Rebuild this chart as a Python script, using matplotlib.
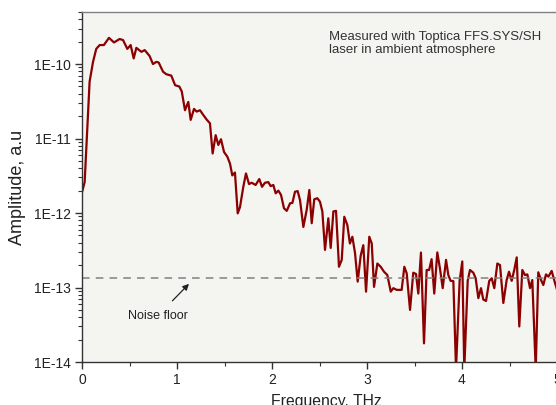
import matplotlib
matplotlib.use("Agg")
import matplotlib.pyplot as plt
from matplotlib.ticker import LogLocator, FuncFormatter, MultipleLocator, FixedLocator
import numpy as np

plt.rcParams['font.family'] = ['Liberation Sans', 'DejaVu Sans']

freq_thz = [0.0, 0.028, 0.08, 0.116, 0.15, 0.186, 0.23, 0.284, 0.337, 0.396, 0.432, 0.477, 0.512,
            0.544, 0.572, 0.625, 0.66, 0.712, 0.747, 0.782, 0.807, 0.853, 0.888, 0.94, 0.98,
            1.024, 1.05, 1.084, 1.119, 1.144, 1.179, 1.207, 1.242, 1.277, 1.312, 1.347, 1.375,
            1.407, 1.435, 1.463, 1.495, 1.53, 1.558, 1.582, 1.61, 1.639, 1.663, 1.698, 1.726,
            1.758, 1.786, 1.828, 1.866, 1.895, 1.926, 1.961, 1.986, 2.014, 2.039, 2.067, 2.095,
            2.126, 2.155, 2.19, 2.215, 2.242, 2.27, 2.295, 2.33, 2.365, 2.393, 2.418, 2.445,
            2.477, 2.505, 2.53, 2.558, 2.593, 2.618, 2.646, 2.674, 2.705, 2.734, 2.761, 2.793,
            2.82, 2.846, 2.874, 2.902, 2.934, 2.961, 2.99, 3.024, 3.05, 3.074, 3.109, 3.144,
            3.179, 3.214, 3.25, 3.277, 3.312, 3.365, 3.393, 3.418, 3.453, 3.487, 3.516, 3.54,
            3.568, 3.6, 3.628, 3.654, 3.68, 3.708, 3.74, 3.768, 3.797, 3.832, 3.856, 3.88,
            3.909, 3.937, 3.975, 4.003, 4.024, 4.06, 4.084, 4.119, 4.144, 4.172, 4.2, 4.224,
            4.253, 4.287, 4.313, 4.34, 4.372, 4.4, 4.435, 4.47, 4.495, 4.523, 4.55, 4.576,
            4.603, 4.635, 4.663, 4.688, 4.716, 4.74, 4.776, 4.803, 4.832, 4.856, 4.884, 4.909,
            4.944, 4.979, 5.01]

amplitude = [1.9e-12, 2.6e-12, 5.8e-11, 1.07e-10, 1.6e-10, 1.8e-10, 1.8e-10, 2.25e-10, 1.95e-10,
             2.17e-10, 2.1e-10, 1.6e-10, 1.8e-10, 1.19e-10, 1.65e-10, 1.46e-10, 1.54e-10, 1.28e-10,
             1.0e-10, 1.07e-10, 1.05e-10, 7.9e-11, 7.3e-11, 7.0e-11, 5.2e-11, 5.0e-11, 4.3e-11,
             2.4e-11, 3.1e-11, 1.78e-11, 2.5e-11, 2.3e-11, 2.4e-11, 2.07e-11, 1.8e-11, 1.6e-11,
             6.3e-12, 1.11e-11, 8.2e-12, 9.8e-12, 6.6e-12, 5.7e-12, 4.6e-12, 3.2e-12, 3.5e-12,
             9.9e-13, 1.2e-12, 2.25e-12, 3.4e-12, 2.45e-12, 2.55e-12, 2.38e-12, 2.86e-12, 2.25e-12,
             2.55e-12, 2.6e-12, 2.3e-12, 2.38e-12, 1.84e-12, 2.0e-12, 1.75e-12, 1.16e-12, 1.07e-12,
             1.35e-12, 1.37e-12, 1.93e-12, 1.97e-12, 1.49e-12, 6.5e-13, 1.1e-12, 2.04e-12, 7.3e-13,
             1.53e-12, 1.58e-12, 1.42e-12, 1.05e-12, 3.2e-13, 8.5e-13, 3.4e-13, 1.05e-12, 1.07e-12,
             1.9e-13, 2.35e-13, 8.9e-13, 6.9e-13, 3.9e-13, 4.8e-13, 2.9e-13, 1.2e-13, 2.7e-13,
             3.7e-13, 8.8e-14, 4.8e-13, 3.9e-13, 1.02e-13, 2.1e-13, 1.9e-13, 1.63e-13, 1.47e-13,
             8.8e-14, 9.8e-14, 9.3e-14, 9.3e-14, 1.9e-13, 1.55e-13, 5.0e-14, 1.58e-13, 1.52e-13,
             8.3e-14, 2.95e-13, 1.78e-14, 1.72e-13, 1.72e-13, 2.4e-13, 8.3e-14, 2.96e-13, 1.8e-13,
             9.8e-14, 2.35e-13, 1.47e-13, 1.23e-13, 1.22e-13, 8e-15, 1.23e-13, 2.24e-13, 8e-15,
             1.23e-13, 1.72e-13, 1.58e-13, 1.33e-13, 7.2e-14, 9.8e-14, 6.9e-14, 6.6e-14, 1.23e-13,
             1.33e-13, 9.8e-14, 2.1e-13, 2.0e-13, 6.2e-14, 1.26e-13, 1.63e-13, 1.23e-13, 1.72e-13,
             2.54e-13, 3.0e-14, 1.72e-13, 1.47e-13, 1.5e-13, 9.8e-14, 1.26e-13, 8e-15, 1.6e-13,
             1.26e-13, 1.08e-13, 1.5e-13, 1.4e-13, 1.67e-13, 1.15e-13, 8.5e-14]

y_major_ticks = [1e-14, 1e-13, 1e-12, 1e-11, 1e-10]
x_major_ticks = [0, 1, 2, 3, 4, 5]
noise_floor = 1.34e-13
x_max = 5.5

fig = plt.figure(figsize=(5.56, 4.05), dpi=100)
ax_w = x_max * 95.0 / 556
ax = fig.add_axes([82/556, 43/405, ax_w, 350/405])
ax.set_facecolor('#f4f4f0')

ax.plot(freq_thz, amplitude, color='#8b0000', lw=1.6, solid_joinstyle='round')
ax.axhline(noise_floor, color='#808080', lw=1.1, ls=(0, (5, 4)))

ax.set_yscale('log')
ax.set_ylim(1e-14, 5e-10)
ax.set_xlim(0, x_max)

ax.yaxis.set_major_locator(FixedLocator(y_major_ticks))
ax.yaxis.set_minor_locator(LogLocator(base=10, subs=np.arange(2, 10), numticks=20))
ax.yaxis.set_major_formatter(FuncFormatter(lambda v, p: "1E%d" % int(round(np.log10(v)))))
ax.yaxis.set_minor_formatter(FuncFormatter(lambda v, p: ""))
ax.xaxis.set_major_locator(FixedLocator(x_major_ticks))
ax.xaxis.set_minor_locator(MultipleLocator(0.5))

for s in ['left', 'bottom']:
    ax.spines[s].set_color('#333333')
    ax.spines[s].set_linewidth(1.0)
ax.spines['top'].set_color('#808080')
ax.spines['top'].set_linewidth(1.0)
ax.spines['right'].set_visible(False)

ax.tick_params(axis='both', which='major', direction='out', length=5, width=1,
               color='#333333', labelsize=10, labelcolor='#222222', pad=3)
ax.tick_params(axis='both', which='minor', direction='out', length=3, width=0.8, color='#333333')

ax.set_ylabel('Amplitude, a.u', fontsize=13, color='#222222')
ax.yaxis.set_label_coords(-0.107, 0.5)
ax.set_xlabel('Frequency, THz', fontsize=11.3, color='#222222')
ax.xaxis.set_label_coords(2.57 / x_max, -0.091)

ax.text(2.6, 1.9e-10, 'Measured with Toptica FFS.SYS/SH\nlaser in ambient atmosphere',
        fontsize=9.5, color='#333333', ha='left', va='center', linespacing=1.15)

ax.annotate('Noise floor', xy=(1.126, 1.12e-13), xytext=(0.8, 4.2e-14),
            fontsize=9, color='#222222', ha='center', va='center',
            arrowprops=dict(arrowstyle='-|>', color='#222222', lw=0.9, mutation_scale=9,
                            shrinkA=6, shrinkB=0))

fig.savefig('out.png', dpi=100)
